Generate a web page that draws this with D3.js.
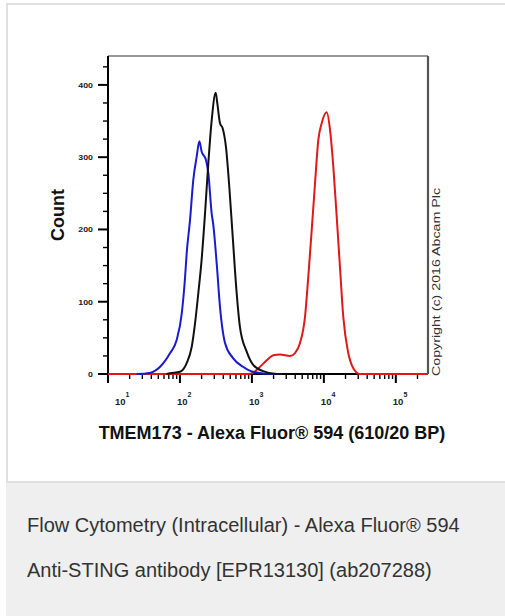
<!DOCTYPE html>
<html><head><meta charset="utf-8">
<script src="https://cdn.jsdelivr.net/npm/d3@7"></script>
<style>body{margin:0;background:#fff}svg{display:block}text{font-family:"Liberation Sans",Arial,sans-serif}</style>
</head><body><svg id="c" width="505" height="616"></svg>
<script>
// ---- data ----
const blueX  = [25, 38, 53, 73, 90, 106, 117, 124, 138, 153, 171, 186, 200, 230, 248, 276, 291, 324, 360, 423, 546, 751, 1035, 1963, 2500];
const blueY  = [0, 1.5, 10, 29, 47, 84, 130, 167, 213, 268, 301, 322, 308, 296, 278, 222, 206, 153, 93, 43, 22, 10, 3, 0, 0];
const blackX = [65, 73, 100, 124, 146, 162, 180, 200, 223, 248, 276, 314, 330, 360, 392, 436, 485, 541, 614, 682, 846, 1035, 1426, 2208, 2600];
const blackY = [0, 1, 3, 15, 38, 70, 112, 158, 222, 292, 351, 389, 375, 347, 340, 314, 259, 190, 112, 65, 31, 13, 4, 0, 0];
const redX   = [10, 880, 1045, 1295, 1604, 1982, 2454, 3381, 3970, 4659, 5468, 6079, 6776, 7536, 8375, 9333, 10951, 12170, 13530, 15070, 16740, 18610, 21840, 25640, 31750, 280000];
const redY   = [0, 0, 2, 10, 19, 26, 27, 25, 29, 43, 79, 135, 199, 264, 324, 347, 362, 338, 287, 218, 148, 79, 29, 8, 0, 0];
const yTickLabels = [0, 100, 200, 300, 400];
const xTickExponents = [1, 2, 3, 4, 5];
const xTitle = "TMEM173 - Alexa Fluor® 594 (610/20 BP)";
const yTitle = "Count";
const copyright = "Copyright (c) 2016 Abcam Plc";
const caption1 = "Flow Cytometry (Intracellular) - Alexa Fluor® 594";
const caption2 = "Anti-STING antibody [EPR13130] (ab207288)";

const svg = d3.select("#c");
// card
svg.append("rect").attr("x",7).attr("y",4).attr("width",510).attr("height",478)
  .attr("fill","#fff").attr("stroke","#e0e0e0").attr("stroke-width",2);
svg.append("rect").attr("x",6).attr("y",483).attr("width",499).attr("height",133).attr("fill","#eeefee");

const x = d3.scaleLog().domain([10, 280000]).range([108, 428]);
const y = d3.scaleLinear().domain([0, 440]).range([374, 56]);

// frame
svg.append("line").attr("x1",108).attr("x2",428).attr("y1",y(440)).attr("y2",y(440)).attr("stroke","#333").attr("stroke-width",1.2);
svg.append("line").attr("x1",428).attr("x2",428).attr("y1",y(440)).attr("y2",y(0)).attr("stroke","#555").attr("stroke-width",2.2);

// y axis
const gy = svg.append("g");
gy.append("line").attr("x1",108).attr("x2",108).attr("y1",y(440)).attr("y2",y(0)+1).attr("stroke","#000").attr("stroke-width",2);
d3.range(0, 426, 25).forEach(v=>{
  const major = v % 100 === 0;
  gy.append("line").attr("x1",108).attr("x2",major?98:103).attr("y1",y(v)).attr("y2",y(v))
    .attr("stroke","#000").attr("stroke-width",major?2:1.4);
});
yTickLabels.forEach(v=>{
  const s = String(v);
  gy.append("text").attr("x",93).attr("y",y(v)+2.8).attr("text-anchor","end")
    .attr("font-size",7.5).attr("font-weight","bold").attr("fill","#222")
    .attr("textLength",s.length*4.9).attr("lengthAdjust","spacingAndGlyphs").text(s);
});

// x axis
const gx = svg.append("g");
gx.append("line").attr("x1",107).attr("x2",428).attr("y1",y(0)).attr("y2",y(0)).attr("stroke","#000").attr("stroke-width",2);
xTickExponents.forEach(e=>{
  for(let k=1;k<=9;k++){
    const v = k*Math.pow(10,e);
    if (v > 280000) continue;
    gx.append("line").attr("x1",x(v)).attr("x2",x(v)).attr("y1",y(0)).attr("y2",y(0)+(k===1?9:5))
      .attr("stroke","#000").attr("stroke-width",k===1?2:1.4);
  }
  const t = gx.append("text").attr("x",x(Math.pow(10,e))-3+(e===1?10:0)).attr("y",405)
    .attr("font-size",9.5).attr("font-weight","bold").attr("fill","#222");
  t.append("tspan").text("10");
  t.append("tspan").attr("dy",-8).attr("font-size",7).text(String(e));
});

// curves
const line = d3.line().x(d=>x(d[0])).y(d=>y(d[1])).curve(d3.curveMonotoneX);
const series = [
  {xs:redX, ys:redY, c:"#e01818"},
  {xs:blueX, ys:blueY, c:"#1a1ad0"},
  {xs:blackX, ys:blackY, c:"#111"}
];
series.forEach(s=>{
  svg.append("path").attr("d", line(d3.zip(s.xs, s.ys))).attr("fill","none")
    .attr("stroke", s.c).attr("stroke-width",2).attr("stroke-linejoin","round");
});

// titles
svg.append("text").attr("x",272).attr("y",439).attr("text-anchor","middle")
  .attr("font-size",18).attr("font-weight","bold").attr("fill","#111").text(xTitle);
svg.append("text").attr("transform","translate(64,215) rotate(-90)").attr("text-anchor","middle")
  .attr("font-size",18).attr("font-weight","bold").attr("fill","#111").text(yTitle);
svg.append("text").attr("transform","translate(440,282) rotate(-90)").attr("text-anchor","middle")
  .attr("font-size",11).attr("fill","#333").attr("textLength",188).attr("lengthAdjust","spacingAndGlyphs").text(copyright);

// caption
svg.append("text").attr("x",27).attr("y",532).attr("font-size",20).attr("fill","#333").text(caption1);
svg.append("text").attr("x",27).attr("y",577).attr("font-size",20).attr("fill","#333").text(caption2);
</script></body></html>
